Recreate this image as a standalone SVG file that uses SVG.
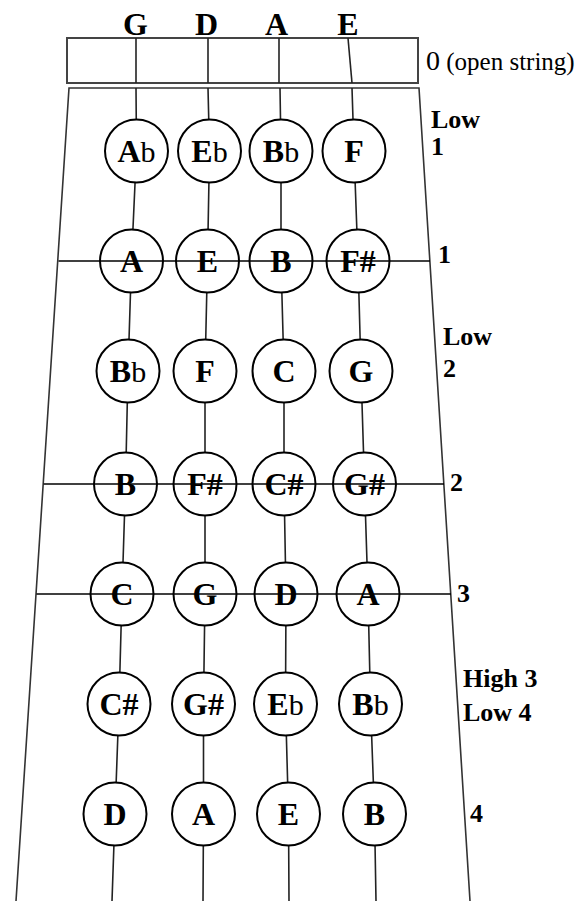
<svg xmlns="http://www.w3.org/2000/svg" width="581" height="901" viewBox="0 0 581 901">
<style>
.bg{fill:#fff}
.edge{fill:none;stroke:#333;stroke-width:1.6}
.box{fill:#fff;stroke:#444;stroke-width:2}
.str{fill:none;stroke:#222;stroke-width:1.6}
.fret{stroke:#000;stroke-width:1.6}
.note circle{fill:#fff;stroke:#000;stroke-width:2}
.note text{font-family:"Liberation Serif","Times New Roman",serif;font-weight:bold;font-size:32px;text-anchor:middle;fill:#000}
.flat{font-weight:normal;font-size:30px}
.lbl{font-family:"Liberation Serif","Times New Roman",serif;font-weight:bold;font-size:26px;fill:#000}
.top{font-family:"Liberation Serif","Times New Roman",serif;font-weight:bold;font-size:32px;text-anchor:middle;fill:#000}
.open{font-family:"Liberation Serif","Times New Roman",serif;font-size:25px;fill:#000}
.zero{font-size:28px}
</style>
<rect class="bg" x="0" y="0" width="581" height="901"/>
<g id="string-names">
<text class="top" x="135.5" y="35">G</text>
<text class="top" x="206.5" y="35">D</text>
<text class="top" x="276.5" y="35">A</text>
<text class="top" x="348" y="35">E</text>
</g>
<g id="nut">
<rect class="box" x="67" y="38" width="351" height="45"/>
<line class="str" x1="136" y1="38" x2="136" y2="83"/>
<line class="str" x1="208" y1="38" x2="208" y2="83"/>
<line class="str" x1="279" y1="38" x2="279" y2="83"/>
<line class="str" x1="348" y1="38" x2="352" y2="83"/>
<text class="open" x="426" y="70"><tspan class="zero">0</tspan> (open string)</text>
</g>
<g id="fingerboard">
<polyline class="edge" points="16,901 69,88 419,88 470,901"/>
</g>
<g id="connectors">
<polyline class="str" points="136,88 136.5,151 131.5,261 128,371 125.5,484 122,594 119,704 115,814 112,901"/>
<polyline class="str" points="208,88 209.5,151 207.5,261 205,371 205,484 205,594 203.5,704 203.5,814 203,901"/>
<polyline class="str" points="280,88 281,151 281,261 284,371 284,484 286,594 285.5,704 288.5,814 289,901"/>
<polyline class="str" points="352,88 354,151 358,261 361,371 364.5,484 368,594 370.5,704 374.5,814 376,901"/>
</g>
<g id="row1">
<g class="note" id="n-Ab1"><circle cx="136.5" cy="151" r="31.5"/><text x="136.5" y="162">A<tspan class="flat">b</tspan></text></g>
<g class="note" id="n-Eb1"><circle cx="209.5" cy="151" r="31.5"/><text x="209.5" y="162">E<tspan class="flat">b</tspan></text></g>
<g class="note" id="n-Bb1"><circle cx="281" cy="151" r="31.5"/><text x="281" y="162">B<tspan class="flat">b</tspan></text></g>
<g class="note" id="n-F1"><circle cx="354" cy="151" r="31.5"/><text x="354" y="162">F</text></g>
</g>
<g id="row2">
<g class="note" id="n-A2"><circle cx="131.5" cy="261" r="31.5"/><text x="131.5" y="272">A</text></g>
<g class="note" id="n-E2"><circle cx="207.5" cy="261" r="31.5"/><text x="207.5" y="272">E</text></g>
<g class="note" id="n-B2"><circle cx="281" cy="261" r="31.5"/><text x="281" y="272">B</text></g>
<g class="note" id="n-Fs2"><circle cx="358" cy="261" r="31.5"/><text x="358" y="272">F#</text></g>
</g>
<g id="row3">
<g class="note" id="n-Bb3"><circle cx="128" cy="371" r="31.5"/><text x="128" y="382">B<tspan class="flat">b</tspan></text></g>
<g class="note" id="n-F3"><circle cx="205" cy="371" r="31.5"/><text x="205" y="382">F</text></g>
<g class="note" id="n-C3"><circle cx="284" cy="371" r="31.5"/><text x="284" y="382">C</text></g>
<g class="note" id="n-G3"><circle cx="361" cy="371" r="31.5"/><text x="361" y="382">G</text></g>
</g>
<g id="row4">
<g class="note" id="n-B4"><circle cx="125.5" cy="484" r="31.5"/><text x="125.5" y="495">B</text></g>
<g class="note" id="n-Fs4"><circle cx="205" cy="484" r="31.5"/><text x="205" y="495">F#</text></g>
<g class="note" id="n-Cs4"><circle cx="284" cy="484" r="31.5"/><text x="284" y="495">C#</text></g>
<g class="note" id="n-Gs4"><circle cx="364.5" cy="484" r="31.5"/><text x="364.5" y="495">G#</text></g>
</g>
<g id="row5">
<g class="note" id="n-C5"><circle cx="122" cy="594" r="31.5"/><text x="122" y="605">C</text></g>
<g class="note" id="n-G5"><circle cx="205" cy="594" r="31.5"/><text x="205" y="605">G</text></g>
<g class="note" id="n-D5"><circle cx="286" cy="594" r="31.5"/><text x="286" y="605">D</text></g>
<g class="note" id="n-A5"><circle cx="368" cy="594" r="31.5"/><text x="368" y="605">A</text></g>
</g>
<g id="row6">
<g class="note" id="n-Cs6"><circle cx="119" cy="704" r="31.5"/><text x="119" y="715">C#</text></g>
<g class="note" id="n-Gs6"><circle cx="203.5" cy="704" r="31.5"/><text x="203.5" y="715">G#</text></g>
<g class="note" id="n-Eb6"><circle cx="285.5" cy="704" r="31.5"/><text x="285.5" y="715">E<tspan class="flat">b</tspan></text></g>
<g class="note" id="n-Bb6"><circle cx="370.5" cy="704" r="31.5"/><text x="370.5" y="715">B<tspan class="flat">b</tspan></text></g>
</g>
<g id="row7">
<g class="note" id="n-D7"><circle cx="115" cy="814" r="31.5"/><text x="115" y="825">D</text></g>
<g class="note" id="n-A7"><circle cx="203.5" cy="814" r="31.5"/><text x="203.5" y="825">A</text></g>
<g class="note" id="n-E7"><circle cx="288.5" cy="814" r="31.5"/><text x="288.5" y="825">E</text></g>
<g class="note" id="n-B7"><circle cx="374.5" cy="814" r="31.5"/><text x="374.5" y="825">B</text></g>
</g>
<g id="frets">
<line class="fret" x1="58.5" y1="261" x2="430" y2="261"/>
<line class="fret" x1="43.7" y1="484" x2="444" y2="484"/>
<line class="fret" x1="36.4" y1="594" x2="451" y2="594"/>
</g>
<g id="finger-labels">
<text class="lbl" x="431" y="128">Low</text>
<text class="lbl" x="431" y="155">1</text>
<text class="lbl" x="438" y="263">1</text>
<text class="lbl" x="443" y="345">Low</text>
<text class="lbl" x="443" y="377">2</text>
<text class="lbl" x="450" y="491">2</text>
<text class="lbl" x="457" y="602">3</text>
<text class="lbl" x="463" y="687">High 3</text>
<text class="lbl" x="463" y="721">Low 4</text>
<text class="lbl" x="470" y="822">4</text>
</g>
</svg>
